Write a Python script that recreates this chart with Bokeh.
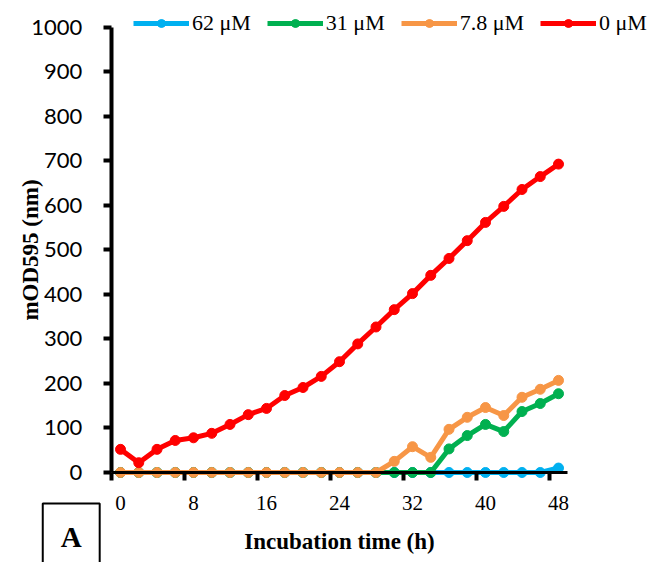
from bokeh.plotting import figure
from bokeh.models import FixedTicker, Legend, LegendItem, Label, Range1d
from bokeh.embed import file_html
from bokeh.resources import INLINE

# Data
time_h = [0, 2, 4, 6, 8, 10, 12, 14, 16, 18, 20, 22, 24, 26, 28, 30, 32, 34, 36, 38, 40, 42, 44, 46, 48]
od_62 = [0, 0, 0, 0, 0, 0, 0, 0, 0, 0, 0, 0, 0, 0, 0, 0, 0, 0, 0, 0, 0, 0, 0, 0, 10]
od_31 = [0, 0, 0, 0, 0, 0, 0, 0, 0, 0, 0, 0, 0, 0, 0, 0, 0, 0, 53, 83, 108, 92, 137, 155, 177]
od_7_8 = [0, 0, 0, 0, 0, 0, 0, 0, 0, 0, 0, 0, 0, 0, 0, 25, 58, 34, 97, 124, 146, 128, 169, 187, 207]
od_0 = [52, 22, 52, 72, 78, 88, 108, 130, 144, 173, 191, 216, 249, 289, 327, 366, 402, 443, 481, 521, 562, 598, 636, 665, 693]

series_labels = ["62 \u03bcM", "31 \u03bcM", "7.8 \u03bcM", "0 \u03bcM"]
series_values = [od_62, od_31, od_7_8, od_0]
series_colors = ["#00B0F0", "#00B050", "#F79646", "#FF0000"]

x_tick_values = [0, 8, 16, 24, 32, 40, 48]
x_tick_marks = [-1, 7, 15, 23, 31, 39, 47]
y_tick_values = [0, 100, 200, 300, 400, 500, 600, 700, 800, 900, 1000]

p = figure(frame_width=655, frame_height=562, min_border=0,
           x_range=Range1d(-13.151, 58.63), y_range=Range1d(-202.25, 1060.67),
           output_backend="svg", toolbar_location=None)

p.outline_line_color = None
p.xgrid.visible = False
p.ygrid.visible = False

items = []
for lab, vals, col in zip(series_labels, series_values, series_colors):
    lr = p.line(time_h, vals, line_color=col, line_width=5)
    sr = p.scatter(time_h, vals, size=10, fill_color=col, line_color=col)
    items.append(LegendItem(label=lab, renderers=[lr, sr]))

legend = Legend(items=items, orientation="horizontal", location=(133, 526),
                border_line_color=None, background_fill_alpha=0,
                spacing=16, label_standoff=3, glyph_width=56, glyph_height=20,
                padding=0, margin=0,
                label_text_font="Liberation Serif", label_text_font_size="22px",
                label_text_color="black")
p.add_layout(legend)

# x axis
xa = p.xaxis[0]
xa.fixed_location = 0
xa.bounds = (-1, 49)
xa.ticker = FixedTicker(ticks=x_tick_values, minor_ticks=x_tick_marks)
xa.axis_line_width = 3
xa.axis_line_color = "black"
xa.major_tick_in = 0
xa.major_tick_out = 0
xa.minor_tick_in = 0
xa.minor_tick_out = 8
xa.minor_tick_line_width = 4
xa.minor_tick_line_color = "black"
xa.major_label_text_font = "Liberation Serif"
xa.major_label_text_font_size = "21px"
xa.major_label_text_color = "black"
xa.major_label_standoff = 16
xa.axis_label = "Incubation time (h)"
xa.axis_label_text_font = "Liberation Serif"
xa.axis_label_text_font_style = "bold"
xa.axis_label_text_font_size = "23px"
xa.axis_label_text_color = "black"
xa.axis_label_standoff = 15

# y axis
ya = p.yaxis[0]
ya.fixed_location = -1
ya.bounds = (0, 1000)
ya.ticker = FixedTicker(ticks=y_tick_values, minor_ticks=[])
ya.axis_line_width = 4
ya.axis_line_color = "black"
ya.major_tick_in = 0
ya.major_tick_out = 8
ya.major_tick_line_width = 4
ya.major_tick_line_color = "black"
ya.major_label_text_font = "Lato"
ya.major_label_text_font_size = "22px"
ya.major_label_text_color = "black"
ya.major_label_standoff = 21
ya.axis_label = "mOD595 (nm)"
ya.axis_label_text_font = "Liberation Serif"
ya.axis_label_text_font_style = "bold"
ya.axis_label_text_font_size = "23px"
ya.axis_label_text_color = "black"
ya.axis_label_standoff = -15

panel = Label(x=-5.4, y=-146, text="A", text_font="Liberation Serif", text_font_style="bold",
              text_font_size="29px", text_align="center", text_baseline="middle",
              text_color="black", border_line_color="black", border_line_width=2,
              background_fill_color="white", padding=18)
p.add_layout(panel)

open("out.html", "w").write(file_html(p, INLINE))
